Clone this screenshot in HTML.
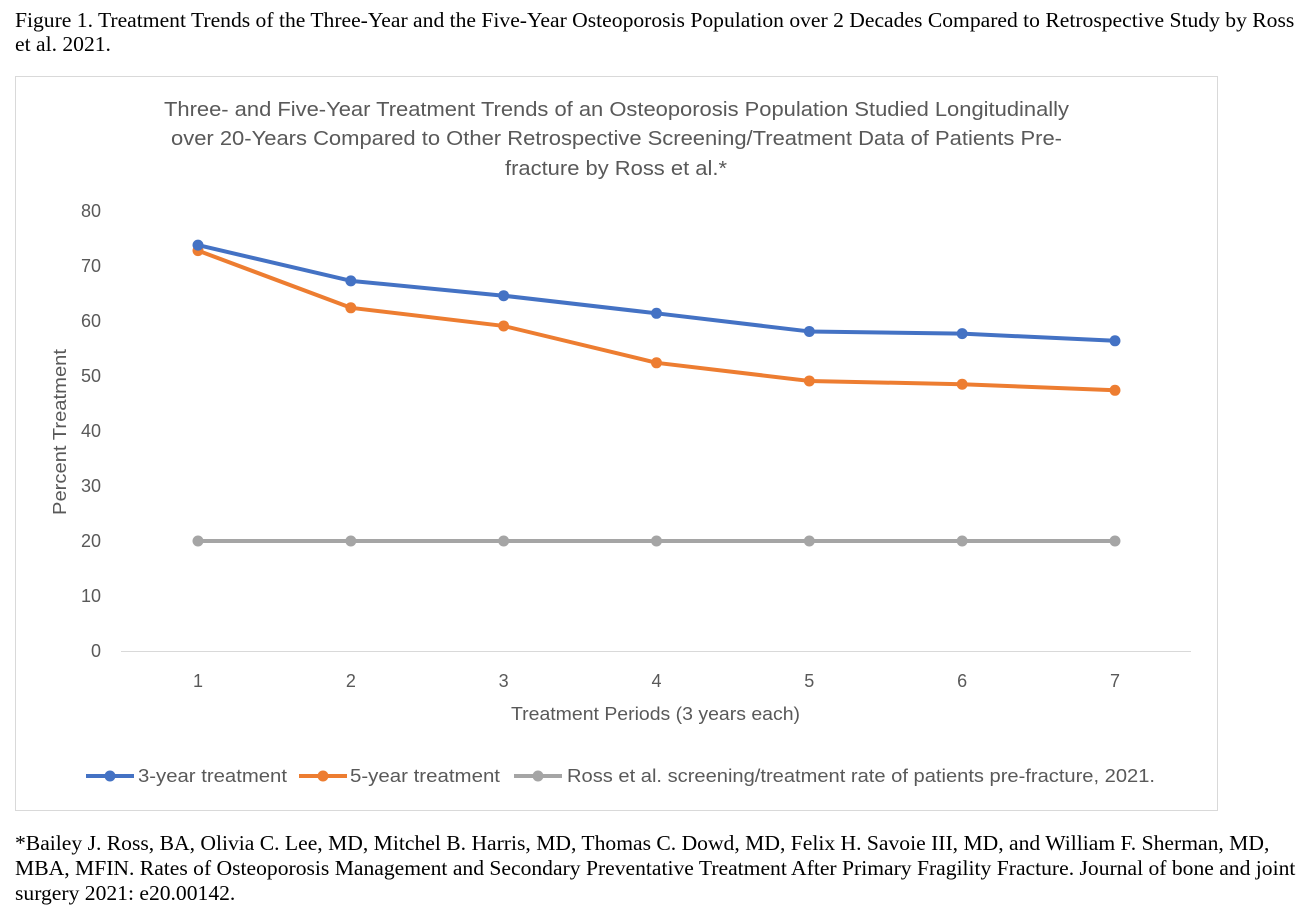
<!DOCTYPE html>
<html><head><meta charset="utf-8"><style>
body{margin:0;width:1316px;height:918px;background:#fff;position:relative;overflow:hidden;font-family:"Liberation Serif",serif;}
.cap{position:absolute;left:15px;font-size:21.6px;line-height:24px;color:#000;white-space:nowrap;}
</style></head><body>
<div class="cap" style="top:8px;">Figure 1. Treatment Trends of the Three-Year and the Five-Year Osteoporosis Population over 2 Decades Compared to Retrospective Study by Ross<br>et al. 2021.</div>
<div class="cap" style="top:831px;line-height:25px;">*Bailey J. Ross, BA, Olivia C. Lee, MD, Mitchel B. Harris, MD, Thomas C. Dowd, MD, Felix H. Savoie III, MD, and William F. Sherman, MD,<br>MBA, MFIN. Rates of Osteoporosis Management and Secondary Preventative Treatment After Primary Fragility Fracture. Journal of bone and joint<br>surgery 2021: e20.00142.</div>
<svg id="chart" width="1316" height="918" style="position:absolute;left:0;top:0" font-family="Liberation Sans, sans-serif">
<rect x="15.5" y="76.5" width="1202" height="734" fill="#fff" stroke="#d9d9d9"/>
<g fill="#595959" font-size="20">
<text x="164" y="116" textLength="905" lengthAdjust="spacingAndGlyphs">Three- and Five-Year Treatment Trends of an Osteoporosis Population Studied Longitudinally</text>
<text x="171" y="145" textLength="891" lengthAdjust="spacingAndGlyphs">over 20-Years Compared to Other Retrospective Screening/Treatment Data of Patients Pre-</text>
<text x="505" y="175" textLength="222" lengthAdjust="spacingAndGlyphs">fracture by Ross et al.*</text>
</g>
<text transform="translate(66,515) rotate(-90)" font-size="18" fill="#595959" textLength="166" lengthAdjust="spacingAndGlyphs">Percent Treatment</text>
<text x="511" y="720" font-size="18" fill="#595959" textLength="289" lengthAdjust="spacingAndGlyphs">Treatment Periods (3 years each)</text>
<g id="plot"></g>
<g id="legend" font-size="18" fill="#595959"></g>
</svg>
<script>
const categories=[1,2,3,4,5,6,7];
const yTicks=[0,10,20,30,40,50,60,70,80];
const threeYear=[73.8,67.3,64.6,61.4,58.1,57.7,56.4];
const fiveYear=[72.8,62.4,59.1,52.4,49.1,48.5,47.4];
const ross=[20,20,20,20,20,20,20];
const seriesNames=["3-year treatment","5-year treatment","Ross et al. screening/treatment rate of patients pre-fracture, 2021."];
const NS="http://www.w3.org/2000/svg";
const x=i=>198+i*152.83;
const y=v=>651-v*5.5;
const plot=document.getElementById('plot');
function mk(tag,attrs,parent){const e=document.createElementNS(NS,tag);for(const k in attrs)e.setAttribute(k,attrs[k]);parent.appendChild(e);return e;}
yTicks.forEach(t=>{const e=mk('text',{x:101,y:y(t)+6,'text-anchor':'end','font-size':18,fill:'#595959'},plot);e.textContent=t;

});
categories.forEach((c,i)=>{const e=mk('text',{x:x(i),y:687,'text-anchor':'middle','font-size':18,fill:'#595959'},plot);e.textContent=c;

});
const ax=mk('line',{x1:121,x2:1191,y1:651.5,y2:651.5,stroke:'#d9d9d9','stroke-width':1},plot);


const series=[[ross,'#a5a5a5','ross'],[fiveYear,'#ed7d31','five-year'],[threeYear,'#4472c4','three-year']];
series.forEach(([d,col,nm])=>{
 const p=mk('polyline',{points:d.map((v,i)=>x(i)+','+y(v)).join(' '),fill:'none',stroke:col,'stroke-width':4,'stroke-linejoin':'round'},plot);
 
 
 d.forEach((v,i)=>{const c=mk('circle',{cx:x(i),cy:y(v),r:5.5,fill:col},plot);
 
 });
});
const lg=document.getElementById('legend');
const lx=[86,299,514],tx=[138,350,567],tw=[149,150,588],cols=['#4472c4','#ed7d31','#a5a5a5'];
seriesNames.forEach((n,i)=>{
 const g=mk('g',{},lg);
 
 
 mk('line',{x1:lx[i],x2:lx[i]+48,y1:776,y2:776,stroke:cols[i],'stroke-width':4},g);
 mk('circle',{cx:lx[i]+24,cy:776,r:5.5,fill:cols[i]},g);
 const t=mk('text',{x:tx[i],y:782,textLength:tw[i],lengthAdjust:'spacingAndGlyphs'},g);t.textContent=n;
});
</script>
</body></html>
